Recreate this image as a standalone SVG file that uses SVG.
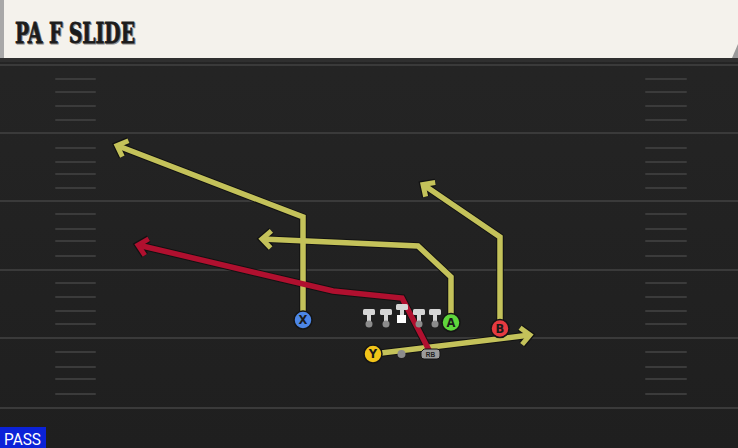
<svg xmlns="http://www.w3.org/2000/svg" width="738" height="448" viewBox="0 0 738 448">
<defs>
<style>
.yl{stroke:#3a3a3a;stroke-width:2}
.hm{stroke:#3b3b3b;stroke-width:2;stroke-linecap:round}
.out{fill:none;stroke:#121212;stroke-width:7.5;stroke-linejoin:miter}
.ry{fill:none;stroke:#c4c25a;stroke-width:5.5;stroke-linejoin:miter}
.rr{fill:none;stroke:#b0102f;stroke-width:5.5;stroke-linejoin:miter}
.pl{stroke:#151515;stroke-width:1.5}
.lt{font-family:"DejaVu Sans",sans-serif;font-size:11.5px;font-weight:bold;fill:#1a1a1a;text-anchor:middle}
.tb{fill:#d6d6d6}
.dot{fill:#8c8c8c}
</style>
<marker id="ao" markerUnits="userSpaceOnUse" viewBox="-16 -14 22 28" markerWidth="22" markerHeight="28" refX="0" refY="0" orient="auto">
<path d="M-9,-8.5 L0,0 L-9,8.5" fill="none" stroke="#121212" stroke-width="7.5" stroke-linejoin="miter"/>
</marker>
<marker id="ay" markerUnits="userSpaceOnUse" viewBox="-16 -14 22 28" markerWidth="22" markerHeight="28" refX="0" refY="0" orient="auto">
<path d="M-9,-8.5 L0,0 L-9,8.5" fill="none" stroke="#c4c25a" stroke-width="5" stroke-linejoin="miter"/>
</marker>
<marker id="ar" markerUnits="userSpaceOnUse" viewBox="-16 -14 22 28" markerWidth="22" markerHeight="28" refX="0" refY="0" orient="auto">
<path d="M-9,-8.5 L0,0 L-9,8.5" fill="none" stroke="#b0102f" stroke-width="5" stroke-linejoin="miter"/>
</marker>
<linearGradient id="fieldg" x1="0" y1="0" x2="0" y2="1">
<stop offset="0" stop-color="#252525"/>
<stop offset="1" stop-color="#1f1f1f"/>
</linearGradient>
</defs>

<g id="field">
<rect x="0" y="0" width="738" height="448" fill="url(#fieldg)"/>
<rect x="0" y="58" width="738" height="4" fill="#2f2f2f"/>
<line class="yl" x1="0" y1="65" x2="738" y2="65"/>
<line class="yl" x1="0" y1="133" x2="738" y2="133"/>
<line class="yl" x1="0" y1="201" x2="738" y2="201"/>
<line class="yl" x1="0" y1="270" x2="738" y2="270"/>
<line class="yl" x1="0" y1="338" x2="738" y2="338"/>
<line class="yl" x1="0" y1="408" x2="738" y2="408"/>
<g id="hash-left">
<line class="hm" x1="56" y1="79" x2="95" y2="79"/><line class="hm" x1="56" y1="92" x2="95" y2="92"/><line class="hm" x1="56" y1="106" x2="95" y2="106"/><line class="hm" x1="56" y1="120" x2="95" y2="120"/>
<line class="hm" x1="56" y1="148" x2="95" y2="148"/><line class="hm" x1="56" y1="162" x2="95" y2="162"/><line class="hm" x1="56" y1="174" x2="95" y2="174"/><line class="hm" x1="56" y1="188" x2="95" y2="188"/>
<line class="hm" x1="56" y1="214" x2="95" y2="214"/><line class="hm" x1="56" y1="229" x2="95" y2="229"/><line class="hm" x1="56" y1="241" x2="95" y2="241"/><line class="hm" x1="56" y1="256" x2="95" y2="256"/>
<line class="hm" x1="56" y1="283" x2="95" y2="283"/><line class="hm" x1="56" y1="297" x2="95" y2="297"/><line class="hm" x1="56" y1="311" x2="95" y2="311"/><line class="hm" x1="56" y1="324" x2="95" y2="324"/>
<line class="hm" x1="56" y1="352" x2="95" y2="352"/><line class="hm" x1="56" y1="367" x2="95" y2="367"/><line class="hm" x1="56" y1="379" x2="95" y2="379"/><line class="hm" x1="56" y1="394" x2="95" y2="394"/>
</g>
<g id="hash-right">
<line class="hm" x1="646" y1="79" x2="686" y2="79"/><line class="hm" x1="646" y1="92" x2="686" y2="92"/><line class="hm" x1="646" y1="106" x2="686" y2="106"/><line class="hm" x1="646" y1="120" x2="686" y2="120"/>
<line class="hm" x1="646" y1="148" x2="686" y2="148"/><line class="hm" x1="646" y1="162" x2="686" y2="162"/><line class="hm" x1="646" y1="174" x2="686" y2="174"/><line class="hm" x1="646" y1="188" x2="686" y2="188"/>
<line class="hm" x1="646" y1="214" x2="686" y2="214"/><line class="hm" x1="646" y1="229" x2="686" y2="229"/><line class="hm" x1="646" y1="241" x2="686" y2="241"/><line class="hm" x1="646" y1="256" x2="686" y2="256"/>
<line class="hm" x1="646" y1="283" x2="686" y2="283"/><line class="hm" x1="646" y1="297" x2="686" y2="297"/><line class="hm" x1="646" y1="311" x2="686" y2="311"/><line class="hm" x1="646" y1="324" x2="686" y2="324"/>
<line class="hm" x1="646" y1="352" x2="686" y2="352"/><line class="hm" x1="646" y1="367" x2="686" y2="367"/><line class="hm" x1="646" y1="379" x2="686" y2="379"/><line class="hm" x1="646" y1="394" x2="686" y2="394"/>
</g>
</g>

<g id="header">
<path d="M0,0 H738 V46 L733,58 H0 Z" fill="#f4f2ec"/>
<path d="M738,44 L732,58 L738,58 Z" fill="#9a9a9a"/>
<rect x="0" y="0" width="4" height="58" fill="#a8a8a8"/>
<text x="16" y="44" font-family="'DejaVu Serif',serif" font-weight="bold" font-size="28" fill="#8a8a8a" stroke="#8a8a8a" stroke-width="0.8" textLength="120" lengthAdjust="spacingAndGlyphs">PA F SLIDE</text>
<text x="15" y="43" font-family="'DejaVu Serif',serif" font-weight="bold" font-size="28" fill="#1c1c1c" stroke="#1c1c1c" stroke-width="0.8" textLength="120" lengthAdjust="spacingAndGlyphs">PA F SLIDE</text>
</g>

<g id="connectors">
<path class="out" d="M303,320 V217 L117,145.5" marker-end="url(#ao)"/>
<path class="out" d="M451,322 V277 L418,246 L262,239" marker-end="url(#ao)"/>
<path class="out" d="M500,328 V237 L423,184.5" marker-end="url(#ao)"/>
<path class="out" d="M373,354 L530,335" marker-end="url(#ao)"/>
<path class="out" d="M430,352 L402,298 L333,291 L138,245" marker-end="url(#ao)"/>
<path class="ry" d="M303,320 V217 L117,145.5" marker-end="url(#ay)"/>
<path class="ry" d="M451,322 V277 L418,246 L262,239" marker-end="url(#ay)"/>
<path class="ry" d="M500,328 V237 L423,184.5" marker-end="url(#ay)"/>
<path class="ry" d="M373,354 L530,335" marker-end="url(#ay)"/>
<path class="rr" d="M430,352 L402,298 L333,291 L138,245" marker-end="url(#ar)"/>
</g>

<g id="ol">
<g id="lt"><rect class="tb" x="363" y="309" width="12" height="6" rx="1.5"/><rect class="tb" x="367" y="314" width="4" height="9"/><circle class="dot" cx="369" cy="324" r="3.5"/></g>
<g id="lg"><rect class="tb" x="380" y="309" width="12" height="6" rx="1.5"/><rect class="tb" x="384" y="314" width="4" height="9"/><circle class="dot" cx="386" cy="324" r="3.5"/></g>
<g id="c"><rect class="tb" x="396" y="304" width="12" height="6" rx="1.5"/><rect class="tb" x="400" y="309" width="4" height="7"/><rect x="397" y="315" width="9" height="8" fill="#ffffff"/></g>
<g id="rg"><rect class="tb" x="413" y="309" width="12" height="6" rx="1.5"/><rect class="tb" x="417" y="314" width="4" height="9"/><circle class="dot" cx="419" cy="324" r="3.5"/></g>
<g id="rt"><rect class="tb" x="429" y="309" width="12" height="6" rx="1.5"/><rect class="tb" x="433" y="314" width="4" height="9"/><circle class="dot" cx="435" cy="324" r="3.5"/></g>
</g>

<g id="qb"><circle class="dot" cx="401.5" cy="354" r="4"/></g>

<g id="rb">
<path d="M424,349 H437 Q440,349 440,352 V356 Q440,359 437,359 H424 Q421,359 421,356 V352 Z" fill="#9b9b9b" stroke="#151515" stroke-width="1"/>
<text x="430.5" y="356.5" font-family="'Liberation Sans',sans-serif" font-size="6.5" font-weight="bold" fill="#222" text-anchor="middle">RB</text>
</g>

<g id="player-x"><circle class="pl" cx="303" cy="320" r="9" fill="#4c86e6"/><text class="lt" x="303" y="324">X</text></g>
<g id="player-a"><circle class="pl" cx="451" cy="322.5" r="9" fill="#5fd63c"/><text class="lt" x="451" y="326.5">A</text></g>
<g id="player-b"><circle class="pl" cx="500" cy="328.5" r="9" fill="#e63a40"/><text class="lt" x="500" y="332.5">B</text></g>
<g id="player-y"><circle class="pl" cx="373" cy="354" r="9" fill="#f2c419"/><text class="lt" x="373" y="358">Y</text></g>

<g id="pass-label">
<rect x="0" y="427" width="46" height="21" fill="#0b22d8"/>
<text x="4" y="445" font-family="Roboto,'Liberation Sans',sans-serif" font-size="16" fill="#ffffff" textLength="37" lengthAdjust="spacingAndGlyphs">PASS</text>
</g>
</svg>
